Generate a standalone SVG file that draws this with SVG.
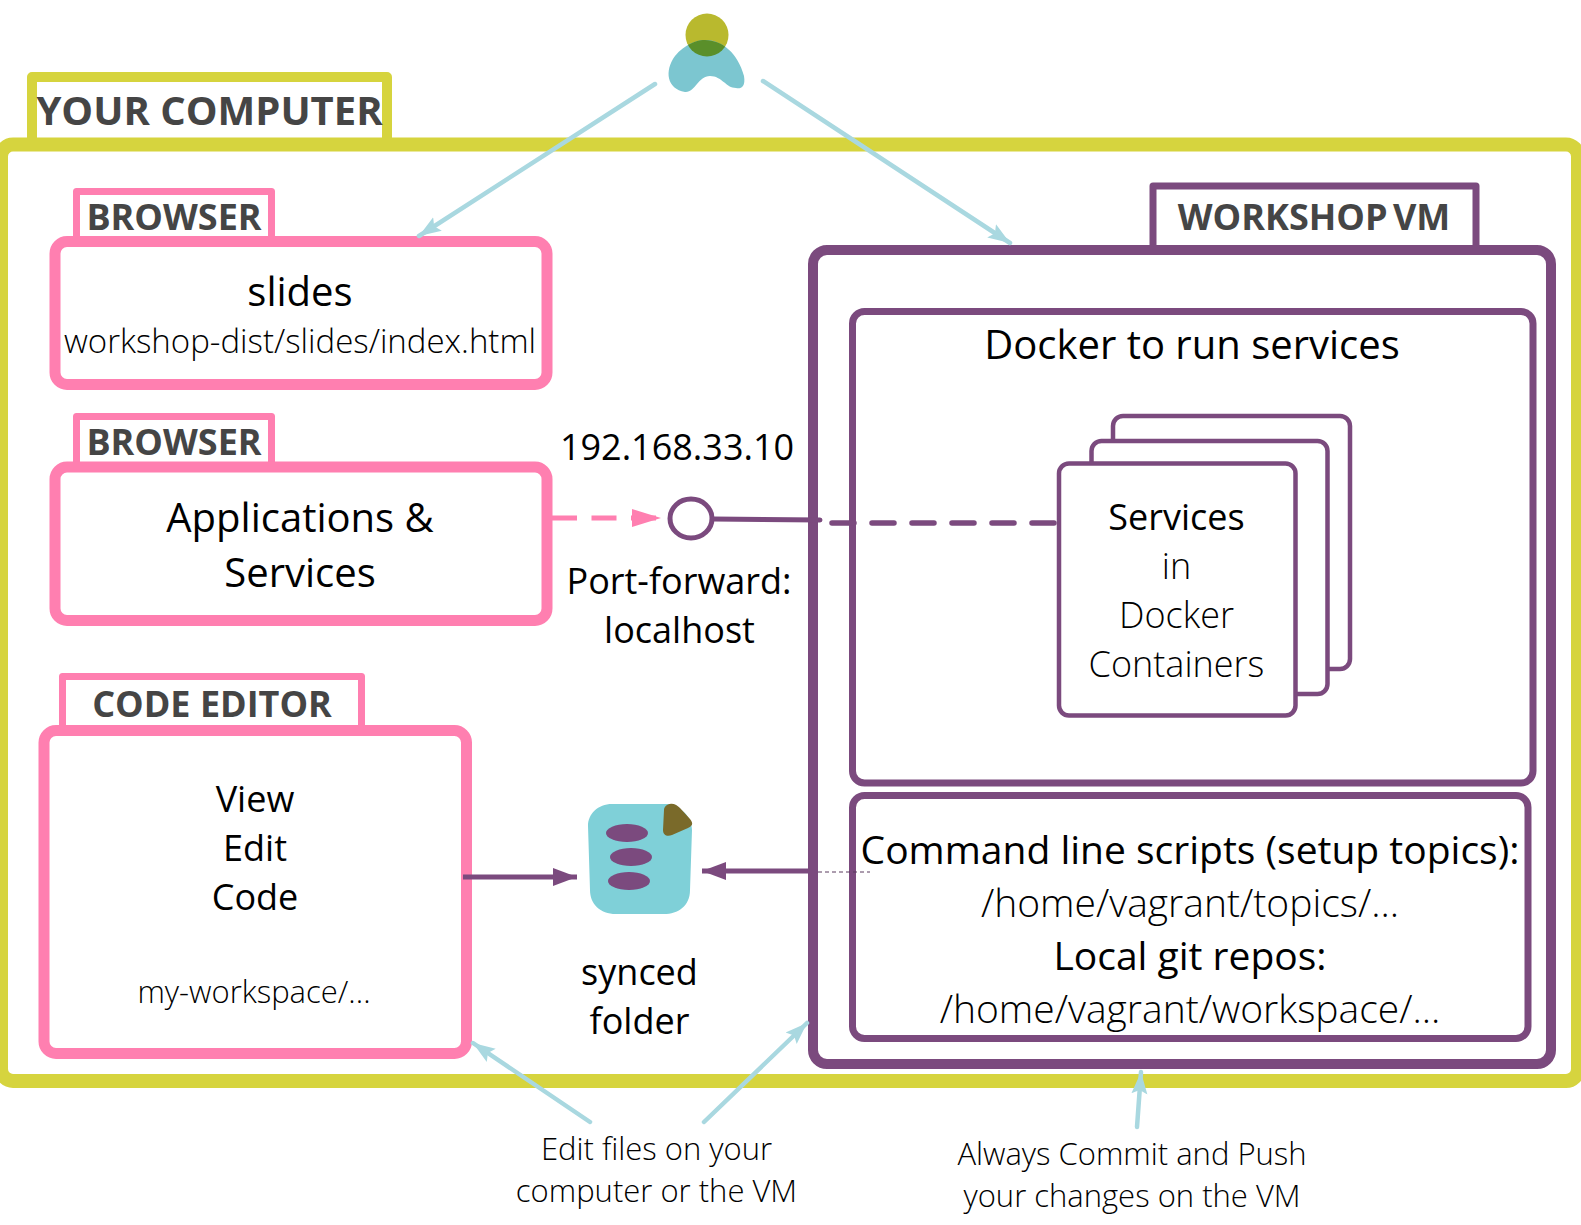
<svg xmlns="http://www.w3.org/2000/svg" width="1581" height="1225" viewBox="0 0 1581 1225">
<style>
text{font-family:"Open Sans","Noto Sans","DejaVu Sans",sans-serif;text-anchor:middle;fill:#000}
.tag{font-weight:700;fill:#454545;font-size:36px}
.l{font-weight:300}
.f36{font-size:36px}.f39{font-size:39px}.f40{font-size:40px}.f31{font-size:31px}
.y{fill:#fff;stroke:#d6d43e;stroke-width:10;stroke-linejoin:round}
.p{fill:#fff;stroke:#ff7fb0;stroke-width:11}
.pt{fill:#fff;stroke:#ff7fb0;stroke-width:7;stroke-linejoin:round}
.v{fill:#fff;stroke:#7b4a7e;stroke-width:7}
.s{fill:#fff;stroke:#7b4a7e;stroke-width:4.5}
.hint{fill:none;stroke:#a9d8e0;stroke-width:4.5;stroke-linecap:round}
.pur{fill:none;stroke:#7b4a7e}
</style>
<defs>
<marker id="la" markerUnits="userSpaceOnUse" markerWidth="26" markerHeight="20" refX="22" refY="9" orient="auto"><path d="M0,1 L22,9 L0,17 L4,9Z" fill="#a9d8e0"/></marker>
<marker id="pa" markerUnits="userSpaceOnUse" markerWidth="26" markerHeight="20" refX="24" refY="9" orient="auto"><path d="M0,0 L24,9 L0,18Z" fill="#7b4a7e"/></marker>
<marker id="pk" markerUnits="userSpaceOnUse" markerWidth="32" markerHeight="20" refX="29" refY="9" orient="auto"><path d="M0,0 L29,9 L0,18Z" fill="#ff7fb0"/></marker>
<clipPath id="hc"><circle cx="707" cy="35" r="21.5"/></clipPath>
</defs>

<g id="your-computer">
<rect class="y" x="32" y="77" width="355" height="70"/>
<rect x="1" y="144.500" width="1577" height="936.500" rx="12" fill="#fff" stroke="#d6d43e" stroke-width="14"/>
<rect x="37" y="82" width="345" height="55" fill="#fff"/>
<text x="209.500" y="125" style="font-weight:700;fill:#454545;font-size:40px">YOUR COMPUTER</text>
</g>

<g id="person">
<circle cx="707" cy="35" r="21.500" fill="#b9b92e"/>
<path d="M685,92 C667,89 664,71 675,56 C685,44 697,40 705,40 C722,40 738,53 744,76 C746,88 740,89 736,88 C726,88 722,76 710,76 C698,76 695,93 685,92Z" fill="#7cc6d0"/>
<path clip-path="url(#hc)" d="M685,92 C667,89 664,71 675,56 C685,44 697,40 705,40 C722,40 738,53 744,76 C746,88 740,89 736,88 C726,88 722,76 710,76 C698,76 695,93 685,92Z" fill="#5a8f2a"/>
</g>

<g id="browser-slides">
<rect class="pt" x="76.500" y="191.500" width="195" height="52" />
<rect class="p" x="55" y="241.500" width="492" height="143" rx="12"/>
<text class="tag" x="174" y="230">BROWSER</text>
<text class="f40" x="300" y="306">slides</text>
<text class="l" x="300" y="353" style="font-size:33px">workshop-dist/slides/index.html</text>
</g>

<g id="browser-apps">
<rect class="pt" x="76.500" y="416.500" width="195" height="50"/>
<rect class="p" x="55" y="467" width="492" height="153.500" rx="12"/>
<text class="tag" x="174" y="455">BROWSER</text>
<text class="f40" x="300" y="532">Applications &amp;</text>
<text class="f40" x="300" y="587">Services</text>
</g>

<g id="code-editor">
<rect class="pt" x="62.500" y="676.500" width="299" height="55"/>
<rect class="p" x="44" y="730.500" width="422.500" height="323" rx="12"/>
<text class="tag" x="212" y="717">CODE EDITOR</text>
<text class="f36" x="255" y="812">View</text>
<text class="f36" x="255" y="861">Edit</text>
<text class="f36" x="255" y="910">Code</text>
<text class="l f31" x="254" y="1003">my-workspace/...</text>
</g>

<g id="workshop-vm">
<rect class="v" x="1153" y="186" width="323" height="70" stroke-linejoin="round"/>
<rect x="813" y="250" width="738" height="814" rx="14" fill="#fff" stroke="#7b4a7e" stroke-width="10"/>
<text class="tag" x="1314" y="230" word-spacing="-4">WORKSHOP VM</text>
</g>

<g id="docker">
<rect class="v" x="852.500" y="311.500" width="680.500" height="471.500" rx="12"/>
<text class="f40" x="1192" y="359">Docker to run services</text>
</g>

<g id="containers">
<rect class="s" x="1113" y="416" width="237" height="253" rx="10"/>
<rect class="s" x="1091.500" y="441" width="236" height="253" rx="10"/>
<rect class="s" x="1059" y="463.500" width="236.500" height="252" rx="10"/>
<text class="f36" x="1176.500" y="530">Services</text>
<text class="f36 l" x="1176.500" y="579">in</text>
<text class="f36 l" x="1176.500" y="628">Docker</text>
<text class="f36 l" x="1176.500" y="677">Containers</text>
</g>

<g id="scripts">
<rect class="v" x="852.500" y="795.500" width="675.500" height="243" rx="12"/>
<text class="f39" x="1190" y="864">Command line scripts (setup topics):</text>
<text class="f39 l" x="1190" y="917">/home/vagrant/topics/...</text>
<text class="f39" x="1190" y="970">Local git repos:</text>
<text class="f39 l" x="1190" y="1023">/home/vagrant/workspace/...</text>
</g>

<g id="port">
<ellipse cx="691" cy="518.500" rx="21" ry="19.500" fill="#fff" stroke="#7b4a7e" stroke-width="5"/>
<text class="f36" x="677" y="460">192.168.33.10</text>
<text class="f36" x="679" y="594">Port-forward:</text>
<text class="f36" x="679.500" y="643">localhost</text>
</g>

<g id="synced-folder">
<path d="M612,804 L668,804 C680,806 692,816 692,830 L690,890 C690,906 678,914 664,914 L616,914 C600,914 590,904 590,890 L588,826 C588,814 598,804 612,804Z" fill="#7fd0d8"/>
<ellipse cx="627" cy="833" rx="21" ry="9" fill="#7b4a7e"/>
<ellipse cx="631" cy="857" rx="21" ry="9" fill="#7b4a7e"/>
<ellipse cx="629" cy="881" rx="21" ry="9" fill="#7b4a7e"/>
<path d="M667,805 C672,802 677,805 680,808 L690,819 C694,824 692,826 688,828 L672,835 C667,837 663,835 663,830 L664,810 C664,808 665,806 667,805Z" fill="#7a6a2a"/>
<text class="f36" x="639.500" y="985">synced</text>
<text class="f36" x="639.500" y="1034">folder</text>
</g>

<g id="connectors">
<path class="hint" marker-end="url(#la)" d="M655,84 L419,236"/>
<path class="hint" marker-end="url(#la)" d="M763,81 L1010,243"/>
<path class="hint" marker-end="url(#la)" d="M590,1122 L473,1043"/>
<path class="hint" marker-end="url(#la)" d="M704,1122 L807,1023"/>
<path class="hint" marker-end="url(#la)" d="M1137,1127 L1141,1072"/>
<path d="M552,518 L661,518" fill="none" stroke="#ff7fb0" stroke-width="5" stroke-dasharray="25,14.500" marker-end="url(#pk)"/>
<path class="pur" stroke-width="5" stroke-linecap="round" d="M713,519 L820,520"/>
<path class="pur" stroke-width="5.500" stroke-linecap="round" stroke-dasharray="22,18" d="M1054,523 L826,523"/>
<path class="pur" stroke-width="5" marker-end="url(#pa)" d="M463,877 L577,877"/>
<path class="pur" stroke-width="5" marker-end="url(#pa)" d="M809,871 L702,871"/>
<path fill="none" stroke="#5a3a5e" stroke-width="1" stroke-dasharray="4,3" d="M818,872 L870,872"/>
</g>

<g id="notes">
<text class="l f31" x="656.500" y="1160">Edit files on your</text>
<text class="l f31" x="656.500" y="1202">computer or the VM</text>
<text class="l f31" x="1132" y="1165">Always Commit and Push</text>
<text class="l f31" x="1132" y="1207">your changes on the VM</text>
</g>
</svg>
